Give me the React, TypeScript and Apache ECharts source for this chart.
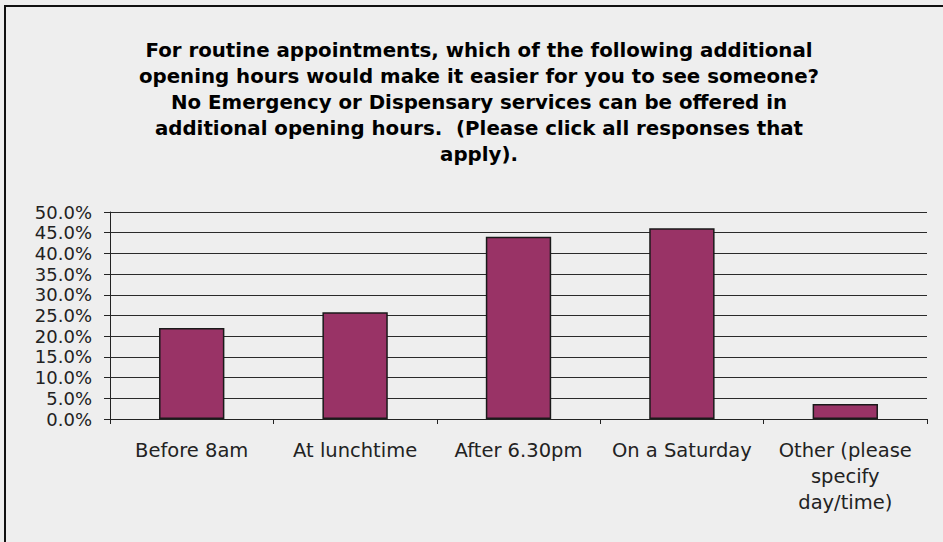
import React, { useEffect, useRef } from "react";
import * as echarts from "echarts";

const titleLines = [
  "For routine appointments, which of the following additional",
  "opening hours would make it easier for you to see someone?",
  "No Emergency or Dispensary services can be offered in",
  "additional opening hours.  (Please click all responses that",
  "apply).",
];
const categories = [
  "Before 8am",
  "At lunchtime",
  "After 6.30pm",
  "On a Saturday",
  "Other (please\nspecify\nday/time)",
];
const values = [22.0, 25.8, 44.0, 46.1, 3.6];
const yMin = 0;
const yMax = 50;
const yStep = 5;

const FONT = "'DejaVu Sans', Verdana, sans-serif";

export default function App() {
  const ref = useRef<HTMLDivElement>(null);
  useEffect(() => {
    document.body.style.margin = "0";
    document.body.style.overflow = "hidden";
    if (!ref.current) return;
    const chart = echarts.init(ref.current, undefined, { renderer: "svg" });
    chart.setOption({
      animation: false,
      backgroundColor: "#eeeeee",
      title: {
        text: titleLines.join("\n"),
        left: 479,
        top: 37,
        padding: 0,
        textAlign: "center",
        textStyle: {
          fontFamily: FONT,
          fontWeight: "bold",
          fontSize: 19.8,
          lineHeight: 26,
          color: "#000",
        },
      },
      graphic: [
        {
          type: "rect",
          shape: { x: 4, y: 5, width: 2, height: 537 },
          style: { fill: "#111" },
          silent: true,
        },
        {
          type: "rect",
          shape: { x: 4, y: 5, width: 939, height: 2 },
          style: { fill: "#111" },
          silent: true,
        },
      ],
      grid: { left: 110, right: 16, top: 212, bottom: 123, containLabel: false },
      xAxis: {
        type: "category",
        data: categories,
        axisLine: { show: true, lineStyle: { color: "#222", width: 1 } },
        axisTick: { show: true, length: 5, alignWithLabel: false, lineStyle: { color: "#222" } },
        axisLabel: {
          interval: 0,
          margin: 18,
          fontFamily: FONT,
          fontSize: 19.5,
          lineHeight: 26,
          color: "#222",
        },
      },
      yAxis: {
        type: "value",
        min: yMin,
        max: yMax,
        interval: yStep,
        axisLine: { show: true, lineStyle: { color: "#222", width: 1 } },
        axisTick: { show: true, length: 6, lineStyle: { color: "#222" } },
        splitLine: { show: true, lineStyle: { color: "#2a2a2a", width: 1 } },
        axisLabel: {
          margin: 18,
          fontFamily: FONT,
          fontSize: 18,
          color: "#222",
          formatter: (v: number) => v.toFixed(1) + "%",
        },
      },
      series: [
        {
          type: "bar",
          data: values,
          barCategoryGap: "60%",
          itemStyle: { color: "#993366", borderColor: "#1a1a1a", borderWidth: 1.5 },
        },
      ],
    });
    return () => chart.dispose();
  }, []);
  return (
    <div
      ref={ref}
      style={{ position: "fixed", left: 0, top: 0, width: 943, height: 542 }}
    />
  );
}
